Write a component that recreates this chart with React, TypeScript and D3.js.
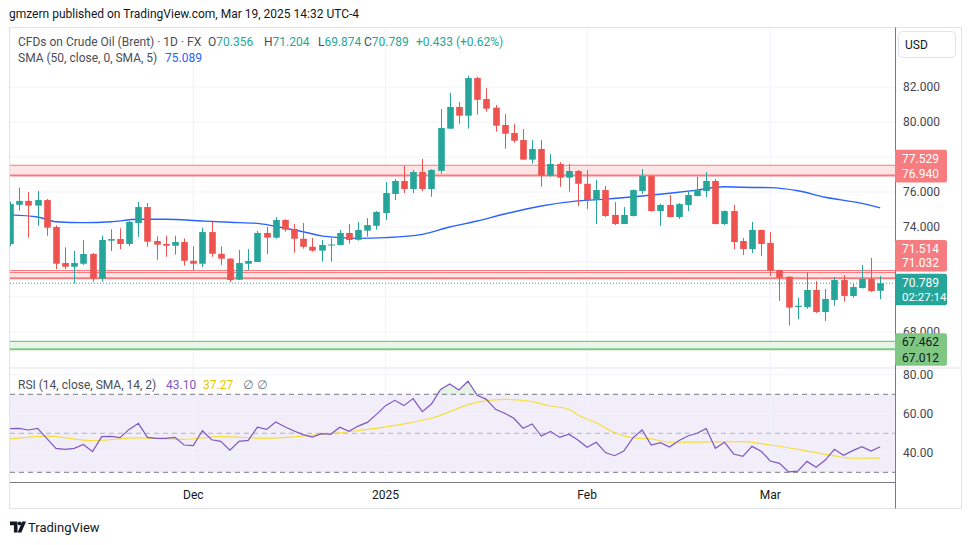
import React from 'react';
import * as d3 from 'd3';

const dates = [
  '2024-11-04','2024-11-05','2024-11-06','2024-11-07','2024-11-08','2024-11-11','2024-11-12','2024-11-13','2024-11-14','2024-11-15',
  '2024-11-18','2024-11-19','2024-11-20','2024-11-21','2024-11-22','2024-11-25','2024-11-26','2024-11-27','2024-11-28','2024-11-29',
  '2024-12-02','2024-12-03','2024-12-04','2024-12-05','2024-12-06','2024-12-09','2024-12-10','2024-12-11','2024-12-12','2024-12-13',
  '2024-12-16','2024-12-17','2024-12-18','2024-12-19','2024-12-20','2024-12-23','2024-12-24','2024-12-26','2024-12-27','2024-12-30',
  '2024-12-31','2025-01-02','2025-01-03','2025-01-06','2025-01-07','2025-01-08','2025-01-09','2025-01-10','2025-01-13','2025-01-14',
  '2025-01-15','2025-01-16','2025-01-17','2025-01-20','2025-01-21','2025-01-22','2025-01-23','2025-01-24','2025-01-27','2025-01-28',
  '2025-01-29','2025-01-30','2025-01-31','2025-02-03','2025-02-04','2025-02-05','2025-02-06','2025-02-07','2025-02-10','2025-02-11',
  '2025-02-12','2025-02-13','2025-02-14','2025-02-17','2025-02-18','2025-02-19','2025-02-20','2025-02-21','2025-02-24','2025-02-25',
  '2025-02-26','2025-02-27','2025-02-28','2025-03-03','2025-03-04','2025-03-05','2025-03-06','2025-03-07','2025-03-10','2025-03-11',
  '2025-03-12','2025-03-13','2025-03-14','2025-03-17','2025-03-18','2025-03-19'
];

const opens = [
  73.03,75.27,75.49,75.22,75.54,74.00,71.94,71.73,71.90,72.46,
  71.05,73.22,73.31,73.03,74.23,75.14,73.20,73.03,72.93,73.14,
  72.07,71.90,73.71,72.47,72.19,70.99,71.90,72.00,73.66,73.39,
  74.40,73.89,73.33,72.87,72.65,72.94,72.97,73.66,73.27,73.79,
  74.07,74.80,75.89,76.63,76.17,77.14,76.17,77.21,79.62,80.86,
  80.36,82.51,81.31,80.82,79.83,79.37,78.97,77.85,78.46,76.93,
  77.60,76.82,77.20,76.47,75.54,76.11,74.69,74.17,74.63,76.06,
  76.91,74.91,75.26,74.57,75.26,75.77,76.06,76.63,74.17,74.91,
  73.20,72.74,73.83,73.09,71.54,71.16,69.43,69.43,70.40,69.14,
  69.83,70.97,70.06,70.51,71.03,70.356
];
const highs = [
  75.45,76.25,76.00,76.06,75.60,74.10,72.84,72.63,73.26,72.51,
  73.50,73.87,73.93,74.34,75.43,75.37,73.47,73.50,73.50,73.35,
  72.90,73.96,74.29,72.90,72.21,72.69,72.74,73.77,74.00,74.57,
  74.45,74.17,74.23,73.37,73.26,73.37,73.83,74.17,74.29,74.51,
  74.91,76.57,76.74,77.49,77.26,77.89,77.30,80.74,81.66,81.14,
  82.65,82.59,81.94,80.97,80.46,79.89,79.60,78.97,78.97,78.17,
  77.71,77.60,77.26,77.26,76.69,76.34,75.43,75.14,76.15,77.31,
  76.95,75.31,75.83,75.37,76.06,76.87,77.14,76.74,74.95,75.26,
  73.37,74.29,73.85,73.71,71.56,71.17,69.96,71.41,70.91,70.46,
  71.14,71.26,70.74,71.83,72.23,71.204
];
const lows = [
  72.90,74.93,73.39,74.07,73.50,71.60,71.60,70.78,71.83,70.87,
  70.87,72.63,72.74,72.91,73.43,72.87,72.13,72.30,72.42,71.79,
  71.54,71.71,72.30,71.83,70.86,70.97,71.54,72.00,72.46,73.33,
  73.73,72.53,72.76,72.59,72.02,72.02,72.95,73.05,73.22,73.45,
  73.85,74.40,75.54,75.94,75.94,76.06,75.73,77.04,79.60,79.90,
  79.62,80.42,80.59,79.45,78.47,78.82,77.85,77.62,76.30,76.87,
  76.30,76.02,75.20,75.03,74.17,74.57,74.11,74.17,74.60,75.89,
  74.88,74.06,74.55,74.46,74.91,75.75,75.71,74.15,74.11,72.74,
  72.40,72.51,72.34,71.20,69.77,68.36,68.74,69.33,69.09,68.63,
  69.50,69.73,69.96,70.49,70.29,69.874
];
const closes = [
  75.31,75.49,75.22,75.54,73.96,71.90,71.73,71.94,72.46,71.05,
  73.26,73.31,73.03,74.29,75.14,73.16,72.99,72.93,73.14,72.07,
  71.90,73.71,72.47,72.19,70.97,71.94,72.06,73.66,73.39,74.40,
  73.85,73.33,72.87,72.65,72.97,73.00,73.66,73.26,73.83,74.11,
  74.86,75.94,76.63,76.17,77.14,76.17,77.26,79.66,80.86,80.36,
  82.51,81.27,80.76,79.79,79.33,78.93,77.85,78.46,76.93,77.60,
  76.82,77.20,76.47,75.54,76.11,74.63,74.17,74.69,76.11,76.91,
  74.91,75.26,74.57,75.31,75.83,76.11,76.63,74.17,74.91,73.14,
  72.74,73.83,73.03,71.50,71.10,69.39,69.50,70.40,69.14,69.89,
  70.97,70.06,70.57,71.03,70.34,70.789
];

// SMA(50) read at sampled bars
const smaIdx = [0,3,5,8,11,14,17,21,24,27,30,32,34,36,38,41,45,48,51,54,58,62,65,69,72,75,78,80,83,86,89,93,95];
const smaVal = [74.69,74.57,74.30,74.25,74.30,74.44,74.44,74.34,74.27,74.21,73.93,73.73,73.49,73.39,73.35,73.39,73.58,74.00,74.34,74.74,75.20,75.49,75.59,75.77,75.93,76.11,76.30,76.27,76.25,76.07,75.70,75.35,75.089];

const rsi = [
  52.4,52.5,51.7,52.5,47.4,42.3,41.8,42.3,44.3,40.6,
  48.3,48.4,47.8,52.0,55.1,47.9,47.4,47.4,47.9,44.0,
  43.7,51.3,46.7,45.9,41.4,45.9,46.4,53.1,52.0,55.8,
  53.4,51.2,49.3,48.1,49.8,49.5,53.1,51.0,53.7,55.6,
  59.7,64.2,66.9,64.2,67.8,61.1,65.0,72.5,75.3,72.2,
  76.7,69.5,67.4,62.3,60.3,57.7,52.6,54.8,48.6,51.0,
  47.9,49.5,46.6,42.8,45.4,40.1,38.5,40.9,47.7,51.7,
  44.0,45.2,43.0,46.2,48.6,50.0,52.4,42.3,45.4,39.4,
  38.2,43.3,40.8,35.8,34.6,30.2,30.6,35.6,32.6,36.3,
  41.8,38.7,41.1,43.1,40.9,43.10
];
const rsiMaIdx = [0,4,9,14,19,23,28,34,37,43,46,51,54,57,59,61,62,64,66,68,70,72,75,80,83,86,90,92,95];
const rsiMaVal = [47.1,48.6,46.2,47.7,46.9,48.3,47.4,49.5,50.8,54.8,57.7,66.0,67.4,66.2,64.0,62.3,59.4,55.4,50.3,47.7,47.1,45.4,45.5,45.7,44.0,41.8,38.4,37.2,37.27];

const priceTicks = [68, 70, 72, 74, 76, 78, 80, 82];
const rsiTicks = [40, 60, 80];
const rsiLevels = [70, 50, 30];
const monthTicks = [
  { date: '2024-12-02', label: 'Dec' },
  { date: '2025-01-02', label: '2025' },
  { date: '2025-02-03', label: 'Feb' },
  { date: '2025-03-03', label: 'Mar' },
];
const resistanceHigh = [77.529, 76.94];
const resistanceLow = [71.514, 71.032];
const supportZone = [67.462, 67.012];
const lastPrice = 70.789;
const countdown = '02:27:14';

const FONT = 'Roboto, "Open Sans", "DejaVu Sans", sans-serif';
const UP = '#26a69a';
const DOWN = '#ef5350';
const ZONE_RED = '#f77c80';
const ZONE_RED_FILL = '#fde4e5';
const ZONE_GREEN = '#81c784';
const ZONE_GREEN_FILL = '#e8f5e9';
const GRID = '#f0f3fa';
const TEXT = '#131722';
const AXIS_TEXT = '#434651';

export default function App() {
  const n = dates.length;
  const PL = 10, PR = 895;
  const priceTop = 27.5, priceBottom = 368;
  const rsiTop = 368.5, rsiBottom = 482;

  const x = d3.scaleLinear().domain([0, n - 1]).range([10.1, 880.2]);
  const yP = d3.scaleLinear().domain([68, 82]).range([332, 87]);
  const yR = d3.scaleLinear().domain([30, 70]).range([472.3, 394.3]);
  const bw = 6.6;

  const smaPath = d3.line<number>()
    .x((_, i) => x(smaIdx[i]))
    .y((d) => yP(d))
    .curve(d3.curveMonotoneX)(smaVal) || '';

  const rsiPath = d3.line<number>()
    .x((_, i) => x(i))
    .y((d) => yR(d))(rsi) || '';

  const rsiMaPath = d3.line<number>()
    .x((_, i) => x(rsiMaIdx[i]))
    .y((d) => yR(d))
    .curve(d3.curveMonotoneX)(rsiMaVal) || '';

  const obArea = d3.area<number>()
    .x((_, i) => x(i))
    .y0(yR(70))
    .y1((d) => yR(Math.max(d, 70)))(rsi) || '';

  const fmt3 = d3.format('.3f');
  const fmt2 = d3.format('.2f');

  // tag layout
  const tagX = PR, tagW = 52;
  const tealC1 = yP(lastPrice) - 0.9;
  const tealC2 = tealC1 + 14.4;
  const tealTop = tealC1 - 9;
  const r71c2 = tealTop - 10.3;
  const r71c1 = r71c2 - 14.4;
  const r77c2 = yP(resistanceHigh[1]) - 1.5;
  const r77c1 = r77c2 - 15.8;
  const gc1 = yP(supportZone[0]) + 0.3;
  const gc2 = gc1 + 15.6;

  const boxes: [number, number][] = [
    [r77c1 - 8.5, r77c2 + 8.5],
    [r71c1 - 8.5, r71c2 + 8.5],
    [tealC1 - 8.5, tealC2 + 8.5],
  ];
  const visibleTicks = priceTicks.filter((t) => {
    const yy = yP(t);
    return !boxes.some(([a, b]) => yy > a && yy < b);
  });

  const tagBox = (c1: number, c2: number, fill: string, key: string) => (
    <rect key={key} x={tagX} y={c1 - 8.5} width={tagW} height={c2 - c1 + 17} rx={2} fill={fill} />
  );
  const tagText = (c: number, txt: string, color: string, key: string, fs = 12) => (
    <text key={key} x={tagX + 7} y={c} dy="0.36em" fontSize={fs} fill={color} fontFamily={FONT}>{txt}</text>
  );

  const monthX = monthTicks.map((t) => x(dates.indexOf(t.date)));

  const zoneLines = (vals: number[], color: string, fill: string, key: string) => {
    const y1 = yP(vals[0]), y2 = yP(vals[1]);
    return (
      <g key={key}>
        <rect x={PL} y={y1} width={PR - PL} height={y2 - y1} fill={fill} />
        <line x1={PL} x2={PR} y1={y1} y2={y1} stroke={color} strokeWidth={1.2} />
        <line x1={PL} x2={PR} y1={y2} y2={y2} stroke={color} strokeWidth={2} />
      </g>
    );
  };

  return (
    <svg width={970} height={545} style={{ position: 'absolute', left: 0, top: 0 }} fontFamily={FONT}>
      <defs>
        <clipPath id="pricePane"><rect x={PL} y={priceTop} width={PR - PL} height={priceBottom - priceTop} /></clipPath>
        <clipPath id="rsiPane"><rect x={PL} y={rsiTop} width={PR - PL} height={rsiBottom - rsiTop} /></clipPath>
        <clipPath id="rsiAxis"><rect x={PR} y={rsiTop} width={70} height={rsiBottom - rsiTop} /></clipPath>
      </defs>
      <rect x={0} y={0} width={970} height={545} fill="#ffffff" />

      {/* header */}
      <text x={9} y={14} dy="0.36em" fontSize={12} fill={TEXT}>gmzern published on TradingView.com, Mar 19, 2025 14:32 UTC-4</text>

      {/* frame */}
      <rect x={9.5} y={27.5} width={952} height={481} fill="none" stroke="#e0e3eb" strokeWidth={1} />

      {/* price pane grid */}
      <g clipPath="url(#pricePane)">
        {priceTicks.map((t) => (
          <line key={'pg' + t} x1={PL} x2={PR} y1={yP(t)} y2={yP(t)} stroke={GRID} strokeWidth={1} />
        ))}
        {monthX.map((mx, i) => (
          <line key={'vg' + i} x1={mx} x2={mx} y1={priceTop} y2={priceBottom} stroke={GRID} strokeWidth={1} />
        ))}

        {zoneLines(resistanceHigh, ZONE_RED, ZONE_RED_FILL, 'zr1')}
        <g>
          <rect x={PL} y={yP(resistanceLow[0])} width={PR - PL} height={yP(resistanceLow[1]) - yP(resistanceLow[0])} fill={ZONE_RED_FILL} />
          <line x1={PL} x2={PR} y1={yP(resistanceLow[0])} y2={yP(resistanceLow[0])} stroke={ZONE_RED} strokeWidth={1.2} />
          <line x1={PL} x2={PR} y1={yP(resistanceLow[0]) + 2} y2={yP(resistanceLow[0]) + 2} stroke={ZONE_RED} strokeWidth={1} />
          <line x1={PL} x2={PR} y1={yP(resistanceLow[1]) - 0.8} y2={yP(resistanceLow[1]) - 0.8} stroke={ZONE_RED} strokeWidth={2} />
        </g>
        {zoneLines(supportZone, ZONE_GREEN, ZONE_GREEN_FILL, 'zg')}

        <path d={smaPath} fill="none" stroke="#2962ff" strokeWidth={1.4} />

        {dates.map((d, i) => {
          const o = opens[i], h = highs[i], l = lows[i], c = closes[i];
          const col = c >= o ? UP : DOWN;
          const top = yP(Math.max(o, c));
          const bot = yP(Math.min(o, c));
          const cx = Math.round(x(i)) + 0.5;
          return (
            <g key={d}>
              <line x1={cx} x2={cx} y1={yP(h)} y2={yP(l)} stroke={col} strokeWidth={1} />
              <rect x={cx - bw / 2} y={top} width={bw} height={Math.max(1, bot - top)} fill={col} />
            </g>
          );
        })}

        <line x1={PL} x2={PR} y1={yP(lastPrice)} y2={yP(lastPrice)} stroke={UP} strokeWidth={1} strokeDasharray="1 2" />
      </g>

      {/* legend */}
      <text y={42} dy="0.36em" fontSize={12} fill="#4a4d57">
        <tspan x={18}>CFDs on Crude Oil (Brent) · 1D · FX</tspan>
        <tspan x={208}>O</tspan><tspan fill={UP}>70.356</tspan>
        <tspan x={264}>H</tspan><tspan fill={UP}>71.204</tspan>
        <tspan x={318}>L</tspan><tspan fill={UP}>69.874</tspan>
        <tspan x={364}>C</tspan><tspan fill={UP}>70.789</tspan>
        <tspan x={416} fill={UP}>+0.433 (+0.62%)</tspan>
      </text>
      <text y={58} dy="0.36em" fontSize={12} fill="#4a4d57">
        <tspan x={18}>SMA (50, close, 0, SMA, 5)</tspan>
        <tspan x={165} fill="#2962ff">{fmt3(smaVal[smaVal.length - 1])}</tspan>
      </text>

      {/* pane separator */}
      <line x1={PL} x2={962} y1={368} y2={368} stroke="#e0e3eb" strokeWidth={1} />

      {/* RSI pane */}
      <g clipPath="url(#rsiPane)">
        <rect x={PL} y={yR(70)} width={PR - PL} height={yR(30) - yR(70)} fill="rgba(126,87,194,0.1)" />
        {rsiTicks.map((t) => (
          <line key={'rg' + t} x1={PL} x2={PR} y1={yR(t)} y2={yR(t)} stroke={GRID} strokeWidth={1} />
        ))}
        {monthX.map((mx, i) => (
          <line key={'rvg' + i} x1={mx} x2={mx} y1={rsiTop} y2={rsiBottom} stroke={GRID} strokeWidth={1} />
        ))}
        {rsiLevels.map((t) => (
          <line key={'rl' + t} x1={PL} x2={PR} y1={yR(t)} y2={yR(t)} stroke="#787b86" strokeOpacity={t === 50 ? 0.5 : 1} strokeWidth={1} strokeDasharray="5 4" />
        ))}
        <path d={obArea} fill="rgba(76,175,80,0.15)" />
        <path d={rsiMaPath} fill="none" stroke="#f7dd3d" strokeWidth={1.2} />
        <path d={rsiPath} fill="none" stroke="#7e57c2" strokeWidth={1.2} />
      </g>
      <text y={385} dy="0.36em" fontSize={12} fill="#4a4d57">
        <tspan x={18}>RSI (14, close, SMA, 14, 2)</tspan>
        <tspan x={166} fill="#7e57c2">{fmt2(rsi[rsi.length - 1])}</tspan>
        <tspan x={203} fill="#e5c800">{fmt2(rsiMaVal[rsiMaVal.length - 1])}</tspan>
        <tspan x={243} fill="#787b86">∅</tspan>
        <tspan x={257} fill="#787b86">∅</tspan>
      </text>

      {/* axes lines */}
      <line x1={PL} x2={PR} y1={482.5} y2={482.5} stroke="#787b86" strokeWidth={1} />
      <line x1={PR + 0.5} x2={PR + 0.5} y1={27.5} y2={508.5} stroke="#787b86" strokeWidth={1} />

      {/* price axis labels */}
      {visibleTicks.map((t) => (
        <text key={'pl' + t} x={903} y={yP(t)} dy="0.36em" fontSize={12} fill={AXIS_TEXT}>{fmt3(t)}</text>
      ))}
      <g clipPath="url(#rsiAxis)">
        {rsiTicks.map((t) => (
          <text key={'rlab' + t} x={903} y={yR(t)} dy="0.36em" fontSize={12} fill={AXIS_TEXT}>{fmt2(t)}</text>
        ))}
      </g>

      {/* tags */}
      {tagBox(r77c1, r77c2, ZONE_RED, 't77')}
      {tagText(r77c1, fmt3(resistanceHigh[0]), '#ffffff', 't77a')}
      {tagText(r77c2, fmt3(resistanceHigh[1]), '#ffffff', 't77b')}
      {tagBox(r71c1, r71c2, ZONE_RED, 't71')}
      {tagText(r71c1, fmt3(resistanceLow[0]), '#ffffff', 't71a')}
      {tagText(r71c2, fmt3(resistanceLow[1]), '#ffffff', 't71b')}
      {tagBox(tealC1, tealC2, UP, 'tl')}
      {tagText(tealC1, fmt3(lastPrice), '#ffffff', 'tla')}
      {tagText(tealC2, countdown, '#ffffff', 'tlb', 11.5)}
      {tagBox(gc1, gc2, ZONE_GREEN, 'tg')}
      {tagText(gc1, fmt3(supportZone[0]), TEXT, 'tga')}
      {tagText(gc2, fmt3(supportZone[1]), TEXT, 'tgb')}

      {/* USD box */}
      <rect x={898.5} y={31.5} width={57} height={26} rx={4} fill="#ffffff" stroke="#e0e3eb" />
      <text x={905} y={44.5} dy="0.36em" fontSize={12} fill={TEXT}>USD</text>

      {/* time axis */}
      {monthTicks.map((t, i) => (
        <text key={'mt' + i} x={monthX[i]} y={494.5} dy="0.36em" fontSize={12} fill={TEXT} textAnchor="middle">{t.label}</text>
      ))}

      {/* footer logo */}
      <g fill={TEXT}>
        <path d="M10 521.5h7.5v11h-3.6v-7.2H10z" />
        <circle cx={19.6} cy={523.4} r={1.9} />
        <path d="M22.2 521.5h3.8l-4.6 11h-3.8z" />
      </g>
      <text x={28} y={527} dy="0.36em" fontSize={13} fill={TEXT}>TradingView</text>
    </svg>
  );
}
